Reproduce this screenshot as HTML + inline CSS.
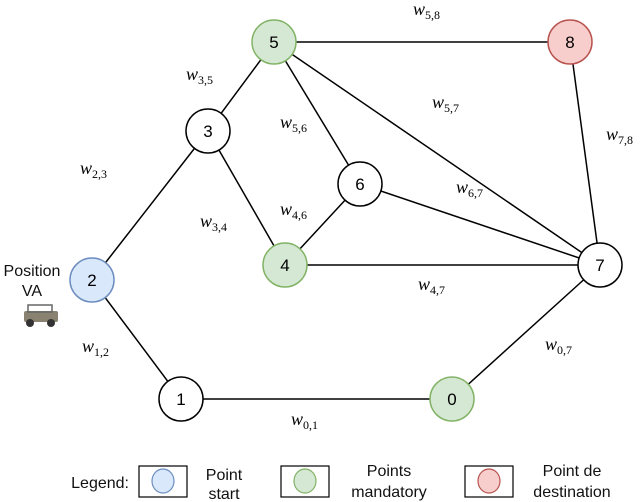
<!DOCTYPE html>
<html><head><style>body{margin:0;background:#fff}svg{display:block}</style></head><body>
<svg width="640" height="502" viewBox="0 0 640 502" xmlns="http://www.w3.org/2000/svg">
<g stroke="#000" stroke-width="1.5" fill="none">
<line x1="92" y1="280" x2="208" y2="131"/>
<line x1="92" y1="280" x2="181" y2="399"/>
<line x1="208" y1="131" x2="274" y2="42"/>
<line x1="208" y1="131" x2="285" y2="265"/>
<line x1="274" y1="42" x2="570" y2="42"/>
<line x1="274" y1="42" x2="360" y2="184"/>
<line x1="274" y1="42" x2="600" y2="265"/>
<line x1="570" y1="42" x2="600" y2="265"/>
<line x1="360" y1="184" x2="600" y2="265"/>
<line x1="360" y1="184" x2="285" y2="265"/>
<line x1="285" y1="265" x2="600" y2="265"/>
<line x1="181" y1="399" x2="452" y2="399"/>
<line x1="452" y1="399" x2="600" y2="265"/>
</g>
<g stroke-width="1.5" font-family="Liberation Sans, sans-serif" font-size="17" text-anchor="middle">
<circle cx="274" cy="42" r="22" fill="#d5e8d4" stroke="#82b366"/><text x="274" y="48">5</text>
<circle cx="570" cy="42" r="22" fill="#f8cecc" stroke="#b85450"/><text x="570" y="48">8</text>
<circle cx="208" cy="131" r="22" fill="#fff" stroke="#000"/><text x="208" y="137">3</text>
<circle cx="360" cy="184" r="22" fill="#fff" stroke="#000"/><text x="360" y="190">6</text>
<circle cx="285" cy="265" r="22" fill="#d5e8d4" stroke="#82b366"/><text x="285" y="271">4</text>
<circle cx="600" cy="265" r="22" fill="#fff" stroke="#000"/><text x="600" y="271">7</text>
<circle cx="92" cy="280" r="22" fill="#dae8fc" stroke="#6c8ebf"/><text x="92" y="286">2</text>
<circle cx="181" cy="399" r="22" fill="#fff" stroke="#000"/><text x="181" y="405">1</text>
<circle cx="452" cy="399" r="22" fill="#d5e8d4" stroke="#82b366"/><text x="452" y="405">0</text>
</g>
<g font-family="Liberation Serif, serif" font-style="italic" font-size="18">
<text x="413" y="15">w<tspan font-size="12" font-style="normal" dy="4">5,8</tspan></text>
<text x="186" y="80">w<tspan font-size="12" font-style="normal" dy="4">3,5</tspan></text>
<text x="432" y="108">w<tspan font-size="12" font-style="normal" dy="4">5,7</tspan></text>
<text x="280" y="128">w<tspan font-size="12" font-style="normal" dy="4">5,6</tspan></text>
<text x="606" y="140">w<tspan font-size="12" font-style="normal" dy="4">7,8</tspan></text>
<text x="80" y="174">w<tspan font-size="12" font-style="normal" dy="4">2,3</tspan></text>
<text x="456" y="193">w<tspan font-size="12" font-style="normal" dy="4">6,7</tspan></text>
<text x="280" y="215">w<tspan font-size="12" font-style="normal" dy="4">4,6</tspan></text>
<text x="200" y="227">w<tspan font-size="12" font-style="normal" dy="4">3,4</tspan></text>
<text x="418" y="290">w<tspan font-size="12" font-style="normal" dy="4">4,7</tspan></text>
<text x="82" y="352">w<tspan font-size="12" font-style="normal" dy="4">1,2</tspan></text>
<text x="545" y="350">w<tspan font-size="12" font-style="normal" dy="4">0,7</tspan></text>
<text x="291" y="425">w<tspan font-size="12" font-style="normal" dy="4">0,1</tspan></text>
</g>
<g font-family="Liberation Sans, sans-serif" font-size="16" text-anchor="middle" fill="#111">
<text x="32" y="276">Position</text>
<text x="32" y="296">VA</text>
<text x="129" y="488" text-anchor="end">Legend:</text>
<text x="224" y="480">Point</text><text x="224" y="499">start</text>
<text x="389" y="476">Points</text><text x="389" y="497">mandatory</text>
<text x="572" y="476">Point de</text><text x="572" y="497">destination</text>
</g>
<g stroke-width="1.2">
<rect x="139" y="466" width="48" height="31" fill="#fff" stroke="#000"/>
<ellipse cx="163" cy="481" rx="11" ry="12" fill="#dae8fc" stroke="#6c8ebf"/>
<rect x="281" y="466" width="48" height="31" fill="#fff" stroke="#000"/>
<ellipse cx="305" cy="481" rx="11" ry="12" fill="#d5e8d4" stroke="#82b366"/>
<rect x="465" y="466" width="48" height="31" fill="#fff" stroke="#000"/>
<ellipse cx="489" cy="481" rx="11" ry="12" fill="#f8cecc" stroke="#b85450"/>
</g>
<g>
<rect x="24" y="311" width="34" height="11" rx="2" fill="#8a8270"/>
<rect x="28" y="305" width="24" height="7" fill="none" stroke="#666" stroke-width="1.5"/>
<circle cx="30" cy="323" r="4" fill="#333"/><circle cx="51" cy="323" r="4" fill="#333"/>
</g>
</svg>
</body></html>
